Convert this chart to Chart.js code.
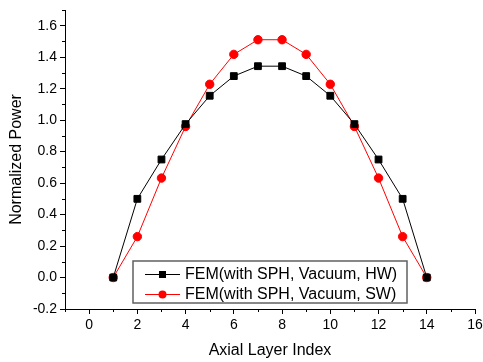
<!DOCTYPE html>
<html>
<head>
<meta charset="utf-8">
<script src="https://cdn.jsdelivr.net/npm/chart.js@4/dist/chart.umd.min.js"></script>
<style>
  html, body { margin: 0; padding: 0; background: #fff; }
  #wrap { width: 483px; height: 362px; }
</style>
</head>
<body>
<div id="wrap"><canvas id="myChart" width="483" height="362"></canvas></div>
<script>
'use strict';

// axial layer index 1..14
const layers = [1, 2, 3, 4, 5, 6, 7, 8, 9, 10, 11, 12, 13, 14];
const powerHW = [0, 0.50, 0.75, 0.975, 1.155, 1.28, 1.343, 1.343, 1.28, 1.155, 0.975, 0.75, 0.50, 0];
const powerSW = [0, 0.26, 0.632, 0.96, 1.228, 1.418, 1.511, 1.511, 1.418, 1.228, 0.96, 0.632, 0.26, 0];
const seriesNames = ['FEM(with SPH, Vacuum, HW)', 'FEM(with SPH, Vacuum, SW)'];
const xTicks = [0, 2, 4, 6, 8, 10, 12, 14, 16];
const yTicks = [-0.2, 0, 0.2, 0.4, 0.6, 0.8, 1.0, 1.2, 1.4, 1.6];

const FONT = '"Liberation Sans", Arial, sans-serif';
const chartCanvas = document.getElementById('myChart');

function toPoints(ys) {
  return layers.map((x, i) => ({ x: x, y: ys[i] }));
}

// little ticks between the labelled ones
const minorTicks = {
  id: 'minorTicks',
  afterDraw(chart) {
    const ctx = chart.ctx;
    const xs = chart.scales.x;
    const ys = chart.scales.y;
    ctx.save();
    ctx.strokeStyle = '#000';
    ctx.lineWidth = 1;
    ctx.beginPath();
    for (let v = xs.min; v <= xs.max; v++) {
      if (v % 2 === 0) continue;
      const px = Math.round(xs.getPixelForValue(v)) + 0.5;
      ctx.moveTo(px, ys.bottom);
      ctx.lineTo(px, ys.bottom + 3);
    }
    for (let k = -1; k <= 17; k += 2) {
      const py = Math.round(ys.getPixelForValue(k / 10)) + 0.5;
      ctx.moveTo(xs.left, py);
      ctx.lineTo(xs.left - 3, py);
    }
    ctx.stroke();
    ctx.restore();
  }
};

// boxed legend sitting inside the plot, like the original
const boxLegend = {
  id: 'boxLegend',
  afterDraw(chart) {
    const ctx = chart.ctx;
    const bx = 133, by = 261, bw = 274, bh = 42;
    ctx.save();
    ctx.fillStyle = '#fff';
    ctx.fillRect(bx, by, bw, bh);
    ctx.strokeStyle = '#606060';
    ctx.lineWidth = 1.5;
    ctx.strokeRect(bx, by, bw, bh);
    chart.data.datasets.forEach((ds, i) => {
      const cy = by + 13 + i * 20;
      ctx.strokeStyle = ds.borderColor;
      ctx.lineWidth = 1;
      ctx.beginPath();
      ctx.moveTo(145, cy + 0.5);
      ctx.lineTo(180, cy + 0.5);
      ctx.stroke();
      ctx.fillStyle = ds.pointBackgroundColor;
      ctx.beginPath();
      if (ds.pointStyle === 'rect') {
        ctx.rect(159, cy - 3, 7, 7);
      } else {
        ctx.arc(162.5, cy + 0.5, 4, 0, Math.PI * 2);
      }
      ctx.fill();
      ctx.fillStyle = '#000';
      ctx.font = '16px ' + FONT;
      ctx.textBaseline = 'middle';
      ctx.fillText(ds.label, 185, cy + 1);
    });
    ctx.restore();
  }
};

function axisOptions(min, max, tickValues, titleText, titlePad) {
  return {
    type: 'linear',
    min: min,
    max: max,
    afterBuildTicks: function (scale) {
      scale.ticks = tickValues.map(v => ({ value: v }));
    },
    ticks: {
      color: '#000',
      font: { family: FONT, size: 14 },
      padding: 3,
      callback: v => (Number.isInteger(v) && max > 2) ? String(v) : v.toFixed(1)
    },
    grid: {
      drawOnChartArea: false,
      drawTicks: true,
      tickLength: 5,
      color: '#000'
    },
    border: { display: true, color: '#000', width: 1 },
    title: {
      display: true,
      text: titleText,
      color: '#000',
      font: { family: FONT, size: 16 },
      padding: titlePad
    }
  };
}

const xAxis = axisOptions(-1, 16, xTicks, 'Axial Layer Index', { top: 0, bottom: 2 });
xAxis.afterFit = function (scale) {
  scale.height = 53;
  scale.paddingRight = 0; // let the "16" hang into the margin
  scale.paddingLeft = 0;
};
const yAxis = axisOptions(-0.2, 1.7, yTicks, 'Normalized Power', { top: 7, bottom: 0 });
yAxis.afterFit = function (scale) {
  scale.width = 65;
  scale.paddingTop = 0;
  scale.paddingBottom = 0;
};

new Chart(chartCanvas, {
  type: 'line',
  data: {
    datasets: [{
      label: seriesNames[0],
      data: toPoints(powerHW),
      borderColor: '#000',
      backgroundColor: '#000',
      pointBackgroundColor: '#000',
      pointBorderColor: '#000',
      pointStyle: 'rect',
      pointRadius: 4.8,
      borderWidth: 1,
      tension: 0
    }, {
      label: seriesNames[1],
      data: toPoints(powerSW),
      borderColor: '#ff0000',
      backgroundColor: '#ff0000',
      pointBackgroundColor: '#ff0000',
      pointBorderColor: '#ff0000',
      pointStyle: 'circle',
      pointRadius: 4.2,
      borderWidth: 1,
      tension: 0
    }]
  },
  options: {
    responsive: false,
    animation: false,
    devicePixelRatio: 1,
    layout: { padding: { left: 0, right: 8, top: 10, bottom: 0 } },
    plugins: {
      legend: { display: false },
      tooltip: { enabled: false }
    },
    scales: {
      x: xAxis,
      y: yAxis
    }
  },
  plugins: [minorTicks, boxLegend]
});
</script>
</body>
</html>
